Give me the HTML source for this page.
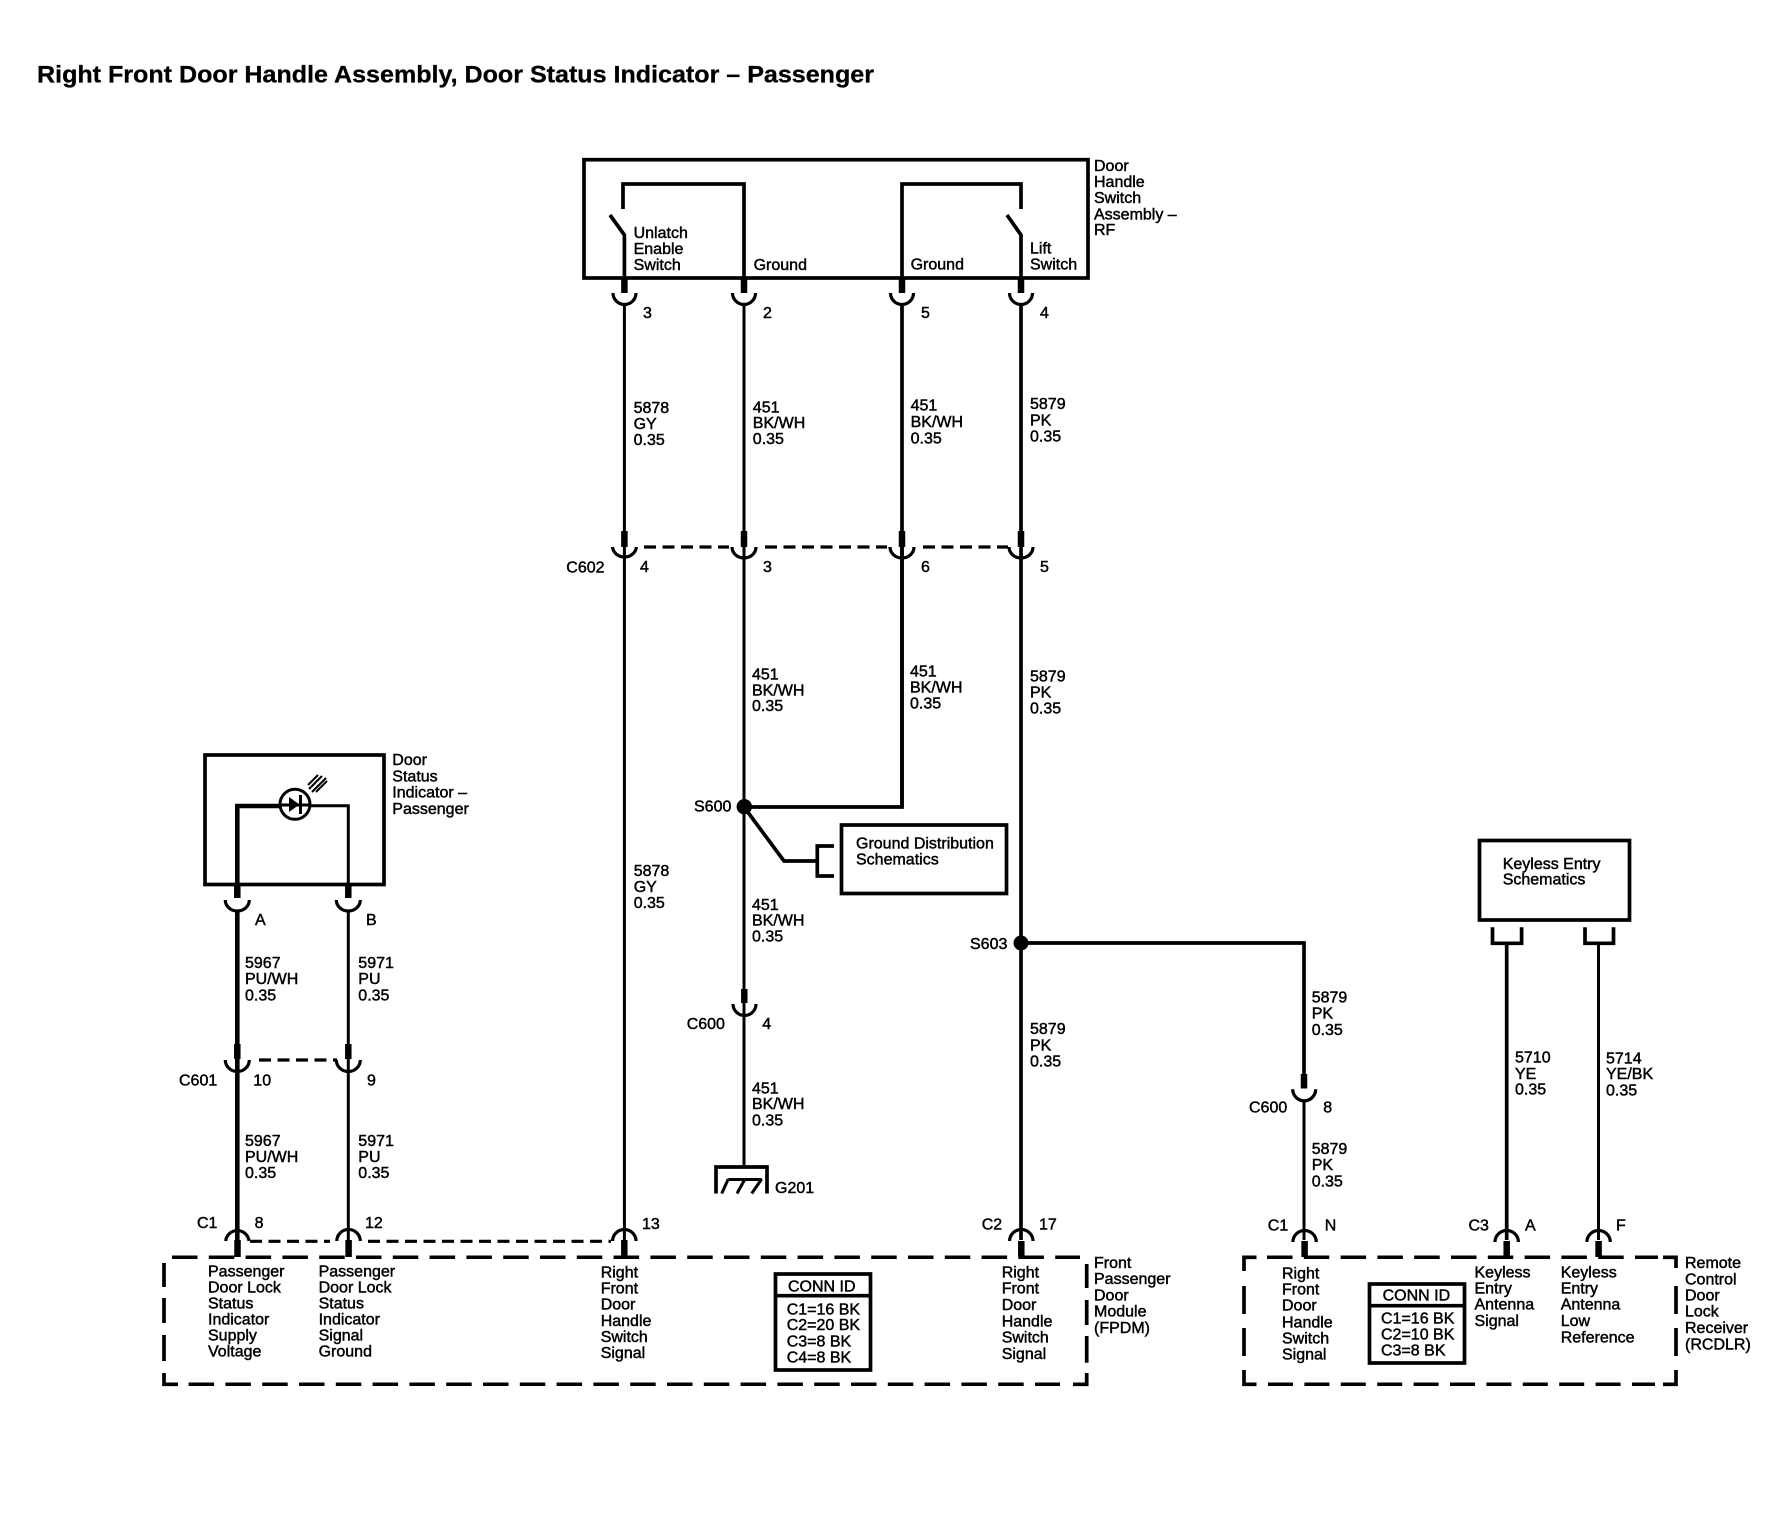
<!DOCTYPE html>
<html><head><meta charset="utf-8"><title>Right Front Door Handle Assembly</title>
<style>
html,body{margin:0;padding:0;background:#fff}
svg{display:block}
text{font-family:"Liberation Sans",Arial,sans-serif;font-size:16px;fill:#000;stroke:#000;stroke-width:.45px}
.title{font-size:24.5px;font-weight:bold;stroke-width:.3px}
.l{fill:none;stroke:#000;stroke-width:3px}
.b{fill:none;stroke:#000;stroke-width:3.7px}
.t{fill:none;stroke:#000;stroke-width:4.6px}
.s{fill:none;stroke:#000;stroke-width:6.5px}
.c{fill:none;stroke:#000;stroke-width:3.2px}
.d{fill:none;stroke:#000;stroke-width:3.2px;stroke-dasharray:12 6.5}
.D{fill:none;stroke:#000;stroke-width:3.5px;stroke-dasharray:25.5 11.3}
</style></head><body>
<svg width="1784" height="1520" viewBox="0 0 1784 1520" xmlns="http://www.w3.org/2000/svg">
<rect width="1784" height="1520" fill="#fff"/>
<text class="title" x="37" y="82.500" textLength="837" lengthAdjust="spacingAndGlyphs">Right Front Door Handle Assembly, Door Status Indicator – Passenger</text>

<!-- Door handle switch assembly -->
<rect class="b" x="584" y="159.700" width="504" height="118.300"/>
<path class="b" d="M623 209V184H744V278"/>
<path class="b" d="M610 215L624.400 235V278"/>
<path class="b" d="M902 278V184H1021V209"/>
<path class="b" d="M1007 215L1021 235V278"/>
<text x="633.600" y="238">Unlatch</text><text x="633.600" y="254">Enable</text><text x="633.600" y="270">Switch</text>
<text x="753.600" y="270">Ground</text>
<text x="910.600" y="269.500">Ground</text>
<text x="1030" y="253.500">Lift</text><text x="1030" y="269.500">Switch</text>
<text x="1094" y="171">Door</text><text x="1094" y="187">Handle</text><text x="1094" y="203">Switch</text><text x="1094" y="219.500">Assembly –</text><text x="1094" y="235">RF</text>

<!-- stubs + cups row 1 -->
<path class="s" d="M624.400 278V293M744 278V293M902 278V293M1021 278V293"/>
<path class="c" d="M613 293A11.500 11.500 0 0 0 636 293M732.500 293A11.500 11.500 0 0 0 755.500 293M890.500 293A11.500 11.500 0 0 0 913.500 293M1009.500 293A11.500 11.500 0 0 0 1032.500 293"/>
<text x="643" y="318">3</text><text x="763" y="318">2</text><text x="921" y="318">5</text><text x="1040" y="318">4</text>

<!-- main verticals -->
<path class="l" d="M624.400 304V1240M744 304V1166"/>
<path class="b" d="M902 304V807M1021 304V1240"/>

<text x="633.600" y="413">5878</text><text x="633.600" y="429">GY</text><text x="633.600" y="445">0.35</text>
<text x="752.800" y="412.400">451</text><text x="752.800" y="428">BK/WH</text><text x="752.800" y="444">0.35</text>
<text x="910.600" y="410.700">451</text><text x="910.600" y="427">BK/WH</text><text x="910.600" y="443.400">0.35</text>
<text x="1030" y="409">5879</text><text x="1030" y="425.700">PK</text><text x="1030" y="441.700">0.35</text>

<!-- C602 -->
<path class="s" d="M624.400 531V547M744 531V547M902 531V547M1021 531V547"/>
<path class="c" d="M612.500 547A12 11 0 0 0 636.400 547M732 547A12 11 0 0 0 756 547M890 547A12 11 0 0 0 914 547M1009 547A12 11 0 0 0 1033 547"/>
<path class="d" d="M644 547H729M765 547H887M923 547H1008"/>
<text x="566.300" y="572.500">C602</text><text x="640" y="572">4</text><text x="763" y="572">3</text><text x="921" y="572">6</text><text x="1040" y="572">5</text>

<text x="752" y="679.300">451</text><text x="752" y="695.300">BK/WH</text><text x="752" y="711">0.35</text>
<text x="910" y="676.700">451</text><text x="910" y="692.500">BK/WH</text><text x="910" y="708.700">0.35</text>
<text x="1030" y="681.700">5879</text><text x="1030" y="697.700">PK</text><text x="1030" y="713.700">0.35</text>
<text x="633.700" y="876">5878</text><text x="633.700" y="892">GY</text><text x="633.700" y="908">0.35</text>

<!-- S600 -->
<path class="b" d="M744 807H902V547"/>
<circle cx="744.300" cy="806.700" r="7.700" fill="#000"/>
<text x="694" y="811.500">S600</text>
<path class="b" d="M744 807L784 861H817.300"/>
<path class="b" d="M834 846H817.300V876H834"/>
<rect class="b" x="841.500" y="825" width="165" height="68.500"/>
<text x="856" y="848.500">Ground Distribution</text><text x="856" y="864.500">Schematics</text>

<text x="752" y="910">451</text><text x="752" y="925.700">BK/WH</text><text x="752" y="941.700">0.35</text>

<!-- C600 left -->
<path class="s" d="M744.300 989V1003"/>
<path class="c" d="M733 1004A11.500 11.500 0 0 0 756 1004"/>
<text x="686.700" y="1029">C600</text><text x="762.300" y="1029">4</text>
<text x="752" y="1093.400">451</text><text x="752" y="1109">BK/WH</text><text x="752" y="1125.700">0.35</text>

<!-- Ground -->
<path class="b" d="M716 1193.500V1167H767V1193.500"/>
<path class="l" d="M728.300 1179.500H761.700M728.300 1179L721.700 1193.500M745 1179L737 1193.500M761.700 1179L751.700 1193.500"/>
<text x="775" y="1193">G201</text>

<!-- S603 -->
<circle cx="1021" cy="943" r="7.500" fill="#000"/>
<path class="b" d="M1021 943H1304V1075"/>
<text x="970" y="949">S603</text>
<text x="1030" y="1034">5879</text><text x="1030" y="1050.700">PK</text><text x="1030" y="1066.400">0.35</text>

<!-- Door status indicator -->
<rect class="b" x="205" y="755" width="179" height="129.500"/>
<path class="t" d="M237.300 884V806H280"/>
<path class="l" d="M310 805.700H348.300V884"/>
<circle cx="295" cy="804.300" r="15" fill="#fff" stroke="#000" stroke-width="3"/>
<path class="l" d="M280 805H310"/>
<path d="M289 797V812L299.500 804.500Z" fill="#000"/>
<path class="l" d="M300.500 795V814"/>
<path d="M309 789L322 776M312 792L326 778M316 792L327 781M308 785L318 775" fill="none" stroke="#000" stroke-width="2"/>
<text x="392.300" y="765">Door</text><text x="392.300" y="781.400">Status</text><text x="392.300" y="797.400">Indicator –</text><text x="392.300" y="814">Passenger</text>
<path class="s" d="M237.300 884V898M348.300 884V898"/>
<path class="c" d="M225.300 900A12 11 0 0 0 249.300 900M336.300 900A12 11 0 0 0 360.300 900"/>
<text x="255" y="925">A</text><text x="366" y="925">B</text>
<path class="t" d="M237.300 911V1240"/>
<path class="l" d="M348.300 911V1240"/>
<text x="245" y="968">5967</text><text x="245" y="984">PU/WH</text><text x="245" y="1000.700">0.35</text>
<text x="358.300" y="968">5971</text><text x="358.300" y="984">PU</text><text x="358.300" y="1000.700">0.35</text>
<!-- C601 -->
<path class="s" d="M237.300 1044V1059M348.300 1044V1059"/>
<path class="c" d="M225.300 1060A12 11.500 0 0 0 249.300 1060M336.300 1060A12 11.500 0 0 0 360.300 1060"/>
<path class="d" d="M259 1060H337"/>
<text x="179" y="1085.700">C601</text><text x="253.300" y="1085.700">10</text><text x="367" y="1085.700">9</text>
<text x="245" y="1146">5967</text><text x="245" y="1162">PU/WH</text><text x="245" y="1178">0.35</text>
<text x="358.300" y="1146">5971</text><text x="358.300" y="1162">PU</text><text x="358.300" y="1178">0.35</text>

<!-- FPDM top connectors -->
<path class="c" d="M225.700 1241A11.700 11.500 0 0 1 249 1241M336.800 1241A11.700 11.500 0 0 1 360.300 1241M612.600 1241A11.700 11.500 0 0 1 636 1241M1009.600 1241A11.700 11.500 0 0 1 1033 1241"/>
<path class="s" d="M237.500 1240V1257M348.600 1240V1257M624.300 1240V1257M1021.300 1241V1257"/>
<path class="d" d="M250 1241.300H330M368 1241.300H611"/>
<text x="197" y="1228">C1</text><text x="254.600" y="1228">8</text><text x="365" y="1228">12</text><text x="642" y="1229">13</text>
<text x="981.700" y="1229.700">C2</text><text x="1039" y="1229.700">17</text>

<!-- FPDM box -->
<path class="D" d="M172 1257.300H1080"/>
<path class="b" d="M164 1263V1287M164 1298V1323M164 1335V1361M164 1373V1384.300H178"/>
<path class="D" d="M188.600 1384.300H1060"/>
<path class="b" d="M1073 1384.300H1086.700V1373M1086.700 1362.700V1336M1086.700 1325V1300M1086.700 1288V1264"/>
<text x="208" y="1276.500">Passenger</text><text x="208" y="1292.500">Door Lock</text><text x="208" y="1308.500">Status</text><text x="208" y="1324.500">Indicator</text><text x="208" y="1340.700">Supply</text><text x="208" y="1356.700">Voltage</text>
<text x="318.600" y="1276.500">Passenger</text><text x="318.600" y="1292.500">Door Lock</text><text x="318.600" y="1308.500">Status</text><text x="318.600" y="1324.500">Indicator</text><text x="318.600" y="1340.700">Signal</text><text x="318.600" y="1356.700">Ground</text>
<text x="600.700" y="1277.400">Right</text><text x="600.700" y="1293.400">Front</text><text x="600.700" y="1309.600">Door</text><text x="600.700" y="1326">Handle</text><text x="600.700" y="1342">Switch</text><text x="600.700" y="1358">Signal</text>
<text x="1001.700" y="1277.400">Right</text><text x="1001.700" y="1293.700">Front</text><text x="1001.700" y="1310">Door</text><text x="1001.700" y="1326.400">Handle</text><text x="1001.700" y="1342.700">Switch</text><text x="1001.700" y="1359">Signal</text>
<text x="1094" y="1268">Front</text><text x="1094" y="1284">Passenger</text><text x="1094" y="1300.400">Door</text><text x="1094" y="1316.700">Module</text><text x="1094" y="1333">(FPDM)</text>
<!-- conn id 1 -->
<rect class="b" x="775.500" y="1274" width="95" height="96"/>
<path class="b" d="M775 1295.700H871"/>
<text x="788" y="1291.400">CONN ID</text>
<text x="786.700" y="1314.400">C1=16 BK</text><text x="786.700" y="1330">C2=20 BK</text><text x="786.700" y="1346.400">C3=8 BK</text><text x="786.700" y="1362.400">C4=8 BK</text>

<!-- C600 right -->
<path class="s" d="M1304 1074V1088.500"/>
<path class="c" d="M1292.700 1089.300A11.500 11.500 0 0 0 1315.700 1089.300"/>
<path class="l" d="M1304 1100V1240"/>
<text x="1311.700" y="1002.400">5879</text><text x="1311.700" y="1018.400">PK</text><text x="1311.700" y="1035">0.35</text>
<text x="1249" y="1112.400">C600</text><text x="1323.300" y="1112.400">8</text>
<text x="1311.700" y="1154">5879</text><text x="1311.700" y="1170">PK</text><text x="1311.700" y="1186.700">0.35</text>

<!-- Keyless -->
<rect class="b" x="1479.500" y="840.500" width="150" height="79.500"/>
<text x="1502.700" y="869">Keyless Entry</text><text x="1502.700" y="884.700">Schematics</text>
<path class="b" d="M1492.500 927.300V943.300H1521.600V927.300M1585 927.300V943.300H1613.500V927.300"/>
<path class="b" d="M1506.700 943V1240"/>
<path class="l" d="M1598.500 943V1240"/>
<text x="1515" y="1062.400">5710</text><text x="1515" y="1079">YE</text><text x="1515" y="1094.700">0.35</text>
<text x="1606" y="1063.400">5714</text><text x="1606" y="1079">YE/BK</text><text x="1606" y="1095.700">0.35</text>

<!-- RCDLR -->
<path class="c" d="M1292.900 1242A11.700 11.500 0 0 1 1316.300 1242M1495 1242A11.700 11.500 0 0 1 1518.400 1242M1586.900 1242A11.700 11.500 0 0 1 1610.300 1242"/>
<path class="s" d="M1304.600 1241V1257M1506.700 1241V1257M1598.600 1241V1257"/>
<text x="1267.800" y="1230.700">C1</text><text x="1324.700" y="1230.700">N</text><text x="1468.500" y="1230.700">C3</text><text x="1525" y="1230.700">A</text><text x="1616" y="1230.700">F</text>
<path class="b" d="M1256.500 1257.300H1244V1271"/>
<path class="D" d="M1267 1257.300H1658"/>
<path class="b" d="M1663 1257.300H1676V1268M1676 1286V1314M1676 1328V1356M1676 1370V1384.300H1663M1244 1286V1314M1244 1328V1356M1244 1370V1384.300H1256.500"/>
<path class="D" d="M1268 1384.300H1655" style="stroke-dasharray:25 11.400"/>
<text x="1282" y="1278.400">Right</text><text x="1282" y="1294.700">Front</text><text x="1282" y="1310.700">Door</text><text x="1282" y="1327.400">Handle</text><text x="1282" y="1343.400">Switch</text><text x="1282" y="1359.700">Signal</text>
<rect class="b" x="1369.500" y="1284" width="95" height="79"/>
<path class="b" d="M1369 1305.700H1465"/>
<text x="1382.600" y="1300.700">CONN ID</text>
<text x="1381" y="1323.400">C1=16 BK</text><text x="1381" y="1339.400">C2=10 BK</text><text x="1381" y="1355.700">C3=8 BK</text>
<text x="1474.500" y="1277.400">Keyless</text><text x="1474.500" y="1293.400">Entry</text><text x="1474.500" y="1309.700">Antenna</text><text x="1474.500" y="1326">Signal</text>
<text x="1560.700" y="1277.400">Keyless</text><text x="1560.700" y="1293.400">Entry</text><text x="1560.700" y="1309.700">Antenna</text><text x="1560.700" y="1326">Low</text><text x="1560.700" y="1342.400">Reference</text>
<text x="1685" y="1268">Remote</text><text x="1685" y="1284.400">Control</text><text x="1685" y="1300.700">Door</text><text x="1685" y="1316.700">Lock</text><text x="1685" y="1333">Receiver</text><text x="1685" y="1349.400">(RCDLR)</text>
</svg>
</body></html>
